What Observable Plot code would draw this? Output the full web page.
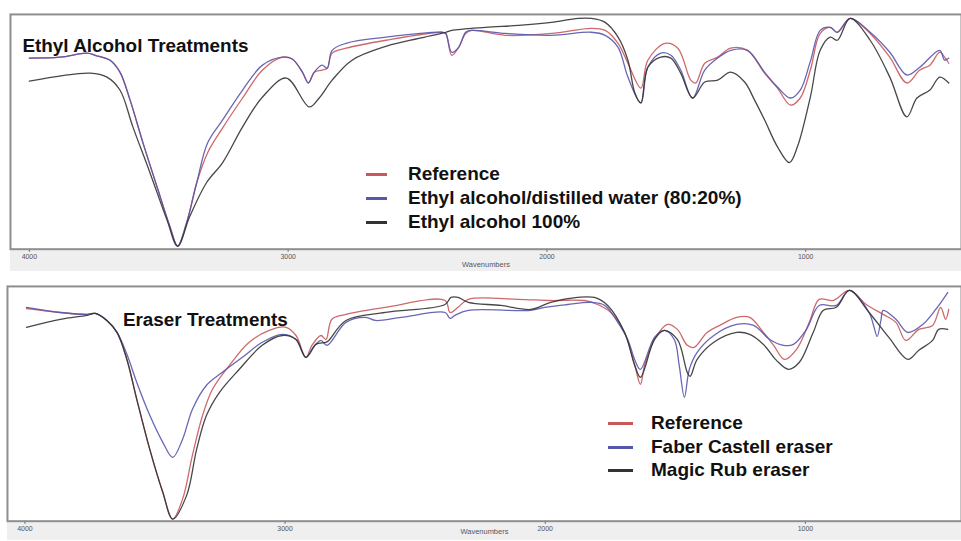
<!DOCTYPE html>
<html><head><meta charset="utf-8">
<script src="https://cdn.jsdelivr.net/npm/d3@7"></script>
<script src="https://cdn.jsdelivr.net/npm/@observablehq/plot@0.6"></script>
<style>
html,body{margin:0;padding:0;background:#fff;overflow:hidden;}
#wrap{position:relative;width:961px;height:541px;overflow:hidden;font-family:"Liberation Sans",Arial,sans-serif;}
.panel{position:absolute;left:0;}
.legend{position:absolute;left:0;top:0;font-weight:bold;font-size:19px;color:#111;}
.legend .item{position:absolute;white-space:nowrap;line-height:22px;height:22px;}
.legend .sw{position:absolute;height:3px;}
</style></head><body><div id="wrap"></div>
<script>
// ---- data: [wavenumber (cm-1), transmittance (%)] ----
const xTicks = [4000, 3000, 2000, 1000];
const topNames = ["Reference", "Ethyl alcohol/distilled water (80:20%)", "Ethyl alcohol 100%"];
const bottomNames = ["Reference", "Faber Castell eraser", "Magic Rub eraser"];
const seriesColors = ["#c9585a", "#5757ad", "#333333"];

const ethylReference = [[4000,81.4],[3881,81.8],[3777,83.5],[3746,82.6],[3688,80.5],[3650,75.4],[3611,63.6],[3561,45.3],[3507,26.7],[3457,9.7],[3427,1.3],[3392,11.4],[3353,28.4],[3311,41.1],[3253,51.7],[3176,64.4],[3099,76.3],[3022,81.8],[2984,81.0],[2945,75.4],[2922,70.8],[2899,75.4],[2869,76.3],[2849,77.1],[2830,83.5],[2776,85.6],[2622,89.0],[2406,92.4],[2391,91.9],[2368,82.6],[2341,86.0],[2314,91.9],[2291,93.2],[2160,91.1],[1983,91.9],[1829,94.1],[1775,93.2],[1725,87.7],[1687,79.2],[1637,68.6],[1610,80.5],[1544,87.7],[1494,85.6],[1444,72.0],[1425,70.8],[1390,79.2],[1340,81.8],[1290,85.6],[1225,84.7],[1159,75.0],[1109,68.6],[1059,61.4],[1021,64.4],[982,76.3],[944,91.9],[905,94.5],[878,92.4],[828,98.3],[751,91.9],[675,81.8],[609,70.8],[559,76.3],[520,78.4],[482,83.9],[463,81.8],[447,79.2]];
const ethylWater = [[4000,81.4],[3881,81.8],[3777,83.5],[3746,82.6],[3688,80.5],[3650,75.4],[3611,63.6],[3561,45.3],[3507,26.7],[3457,9.7],[3427,1.3],[3392,11.4],[3353,28.4],[3311,45.3],[3253,55.1],[3176,67.8],[3099,78.4],[3022,81.8],[2984,81.0],[2945,75.4],[2922,70.8],[2899,75.4],[2869,78.4],[2849,77.1],[2830,84.7],[2776,87.7],[2622,90.3],[2406,92.4],[2391,91.9],[2368,83.9],[2341,86.0],[2314,92.4],[2291,93.2],[2160,91.9],[1983,91.1],[1829,92.4],[1775,91.1],[1725,86.0],[1687,73.3],[1637,62.3],[1610,77.5],[1560,83.5],[1521,82.6],[1483,76.3],[1437,64.4],[1390,76.3],[1340,81.4],[1290,84.7],[1225,84.7],[1159,75.4],[1109,69.1],[1059,64.4],[1021,67.8],[982,80.0],[944,93.2],[905,94.5],[878,92.4],[828,98.3],[751,92.4],[675,83.9],[609,74.2],[559,77.5],[482,84.7],[463,80.5],[447,81.4]];
const ethyl100 = [[4000,71.6],[3765,75.0],[3700,73.3],[3650,67.8],[3600,52.1],[3534,32.6],[3469,12.7],[3427,1.3],[3380,14.0],[3315,28.4],[3253,36.9],[3176,52.1],[3099,64.8],[3007,72.9],[2918,60.6],[2880,64.4],[2830,72.0],[2753,80.5],[2622,86.4],[2495,89.8],[2391,92.4],[2368,93.2],[2237,94.5],[2110,95.3],[1983,96.6],[1879,98.3],[1829,98.3],[1775,96.6],[1725,90.3],[1687,80.5],[1660,66.5],[1637,62.3],[1610,77.5],[1560,81.8],[1521,81.4],[1483,75.0],[1437,64.4],[1390,71.2],[1340,72.0],[1290,75.4],[1236,71.2],[1198,63.6],[1159,55.1],[1109,43.6],[1063,36.9],[1032,43.6],[982,64.8],[944,84.7],[905,90.3],[878,89.0],[828,98.3],[751,89.0],[675,73.3],[609,56.4],[570,64.4],[520,67.8],[482,73.3],[447,70.8]];

const eraserReference = [[3994,90.6],[3864,88.9],[3761,88.1],[3730,88.5],[3685,85.5],[3646,80.4],[3608,68.9],[3570,51.9],[3520,30.6],[3470,12.3],[3432,0.9],[3394,9.4],[3356,28.1],[3317,45.1],[3279,56.2],[3214,66.4],[3138,76.2],[3061,81.3],[2996,82.6],[2958,79.1],[2920,69.8],[2897,74.9],[2862,79.1],[2843,77.4],[2820,86.0],[2766,88.1],[2614,91.1],[2385,94.0],[2366,88.9],[2335,91.1],[2296,94.5],[2105,94.5],[1979,94.0],[1849,94.0],[1798,92.3],[1748,88.9],[1695,80.4],[1656,66.4],[1634,58.3],[1618,66.4],[1580,77.4],[1530,83.8],[1492,81.7],[1454,74.9],[1428,74.0],[1378,80.4],[1329,83.4],[1264,86.8],[1214,86.8],[1161,80.4],[1122,74.9],[1080,68.9],[1034,73.2],[985,84.7],[947,94.5],[893,94.0],[831,98.3],[766,92.3],[701,88.1],[652,84.7],[614,77.0],[564,81.7],[511,83.4],[480,91.1],[461,86.0],[449,90.2]];
const faberCastell = [[3994,91.1],[3864,88.9],[3761,88.1],[3730,88.5],[3685,85.5],[3646,80.4],[3608,71.1],[3570,59.1],[3520,45.1],[3470,33.6],[3432,27.2],[3394,34.9],[3356,47.7],[3302,57.9],[3241,63.4],[3164,69.8],[3088,76.2],[3011,79.6],[2958,77.4],[2920,69.8],[2882,75.3],[2862,77.0],[2839,74.9],[2766,84.7],[2690,86.8],[2652,85.5],[2553,86.8],[2385,88.9],[2366,86.4],[2347,87.7],[2296,89.8],[2055,89.8],[2002,91.1],[1914,92.3],[1826,93.2],[1771,91.9],[1721,84.7],[1683,77.4],[1652,67.7],[1634,64.7],[1580,78.3],[1542,81.3],[1504,77.4],[1485,66.4],[1465,52.8],[1446,64.7],[1416,71.9],[1352,79.1],[1264,83.8],[1199,83.4],[1137,77.4],[1084,74.9],[1046,75.3],[996,81.7],[947,91.9],[881,91.9],[831,98.3],[755,88.9],[739,83.8],[724,78.7],[709,86.0],[701,89.8],[652,86.0],[606,80.4],[549,83.8],[499,90.2],[453,97.4]];
const magicRub = [[3994,82.6],[3864,86.0],[3761,87.7],[3730,88.5],[3685,85.5],[3646,80.4],[3608,68.9],[3570,51.9],[3520,30.6],[3470,12.3],[3432,0.9],[3378,11.1],[3340,30.6],[3302,45.1],[3252,54.9],[3176,64.7],[3088,74.9],[3011,79.1],[2958,77.4],[2920,69.8],[2882,75.3],[2843,76.2],[2832,77.0],[2766,85.5],[2614,88.9],[2385,92.3],[2362,95.3],[2335,95.3],[2296,93.2],[2170,91.9],[2055,90.2],[1979,93.2],[1876,95.3],[1811,95.3],[1760,91.9],[1695,80.4],[1656,66.4],[1634,61.3],[1580,77.4],[1542,81.3],[1492,77.4],[1454,63.4],[1443,61.7],[1416,68.9],[1352,76.2],[1264,80.4],[1214,79.6],[1161,75.3],[1111,68.5],[1065,64.7],[1023,67.7],[970,80.4],[931,89.8],[881,91.1],[831,98.3],[755,88.9],[679,78.3],[606,68.9],[564,72.8],[511,77.0],[488,81.7],[453,81.7]];

// ---- drawing ----
const wrap = document.getElementById("wrap");

function makePanel(cfg) {
  const rows = cfg.series.flatMap((vals, i) => vals.map(([w, t]) => ({w, t, key: cfg.names[i]})));
  const bandH = cfg.height - cfg.plotBottom;
  const svg = Plot.plot({
    width: 966,
    height: cfg.height,
    marginTop: 14,
    marginBottom: cfg.height - cfg.plotBottom,
    marginLeft: cfg.marginLeft,
    marginRight: 0,
    style: {
      fontFamily: "'Liberation Sans', Arial, sans-serif",
      background: `linear-gradient(#efefef,#efefef) no-repeat ${cfg.marginLeft}px ${cfg.plotBottom}px / 960px ${bandH}px, white`,
      overflow: "hidden"
    },
    x: {domain: cfg.domain},
    y: {domain: [0, 100], axis: null},
    color: {domain: cfg.names, range: seriesColors},
    marks: [
      Plot.axisX({ticks: xTicks, tickFormat: d => String(d), tickSize: 3, tickPadding: 2,
        fontSize: 7, color: "#555", label: null}),
      Plot.line(rows, {x: "w", y: "t", z: "key", stroke: "key", strokeWidth: 1.3,
        strokeOpacity: 0.9, curve: "catmull-rom"}),
      Plot.frame({stroke: "#8e8e8e", strokeWidth: 2}),
      Plot.text([cfg.title], {frameAnchor: "top-left", dx: cfg.titleDx, dy: cfg.titleDy,
        textAnchor: "start", fontSize: 19, fontWeight: "bold", fill: "#111"}),
      Plot.text(["Wavenumbers"], {frameAnchor: "bottom", dy: cfg.labelDy, fontSize: 7.5, fill: "#555"})
    ]
  });
  svg.classList.add("panel");
  svg.style.top = cfg.top + "px";
  wrap.appendChild(svg);

  const lg = document.createElement("div");
  lg.className = "legend";
  cfg.names.forEach((n, i) => {
    const y = cfg.legendY[i];
    const sw = document.createElement("div");
    sw.className = "sw";
    sw.style.left = cfg.swX + "px";
    sw.style.width = cfg.swW + "px";
    sw.style.top = (cfg.top + y - 1.5) + "px";
    sw.style.background = seriesColors[i];
    lg.appendChild(sw);
    const it = document.createElement("div");
    it.className = "item";
    it.textContent = n;
    it.style.left = cfg.textX + "px";
    it.style.top = (cfg.top + y - 11) + "px";
    lg.appendChild(it);
  });
  wrap.appendChild(lg);
}

makePanel({
  series: [ethylReference, ethylWater, ethyl100], names: topNames,
  title: "Ethyl Alcohol Treatments", titleDx: 12, titleDy: 24, labelDy: 18,
  top: 0, height: 272, plotBottom: 250, marginLeft: 10, domain: [4073, 398],
  legendY: [174, 198, 222], swX: 366, swW: 21, textX: 408
});
makePanel({
  series: [eraserReference, faberCastell, magicRub], names: bottomNames,
  title: "Eraser Treatments", titleDx: 116, titleDy: 26, labelDy: 13,
  top: 272, height: 269, plotBottom: 250, marginLeft: 7, domain: [4067, 400],
  legendY: [151, 175, 198], swX: 608, swW: 25, textX: 651
});
</script></body></html>
